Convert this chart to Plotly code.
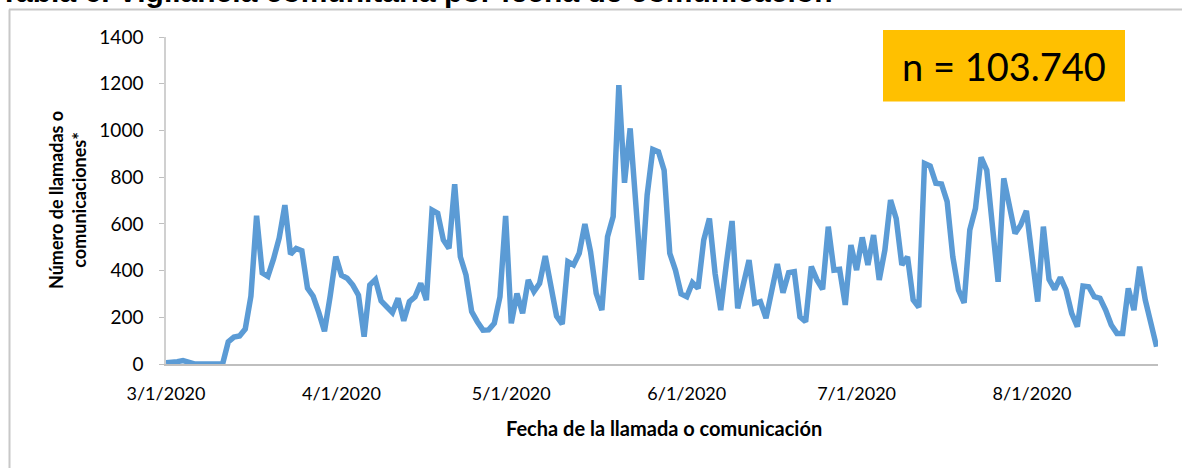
import pandas as pd
import plotly.graph_objects as go

start_date = "2020-03-01"
llamadas = [
    5, 5, 10, 15, 5, 0, 0, 0, 0, 0,
    0, 95, 115, 120, 150, 290, 635, 390, 375, 450,
    540, 680, 470, 495, 485, 325, 290, 220, 140, 290,
    460, 380, 367, 338, 295, 117, 338, 362, 270, 245,
    220, 281, 185, 267, 288, 345, 274, 659, 645, 531,
    495, 770, 459, 381, 224, 181, 145, 146, 174, 288,
    634, 174, 302, 217, 360, 310, 345, 462, 330, 205,
    171, 438, 424, 474, 599, 481, 302, 231, 545, 631,
    1194, 776, 1009, 700, 360, 723, 919, 909, 830, 474,
    402, 300, 288, 348, 324, 531, 623, 388, 231, 431,
    612, 238, 340, 445, 260, 267, 196, 317, 428, 305,
    391, 395, 202, 181, 417, 360, 320, 588, 402, 405,
    253, 509, 402, 542, 424, 552, 360, 488, 702, 623,
    424, 459, 274, 243, 859, 848, 774, 771, 695, 459,
    317, 262, 574, 666, 885, 830, 600, 352, 795, 680,
    559, 595, 656, 460, 267, 588, 362, 320, 371, 317,
    217, 160, 334, 331, 288, 281, 231, 167, 131, 131,
    324, 231, 417, 274, 174, 74,
]
tick_dates = ["2020-03-01", "2020-04-01", "2020-05-01", "2020-06-01", "2020-07-01", "2020-08-01"]
tick_labels = ["3/1/2020", "4/1/2020", "5/1/2020", "6/1/2020", "7/1/2020", "8/1/2020"]
y_ticks = [0, 200, 400, 600, 800, 1000, 1200, 1400]
total_label = "n = 103.740"
title_text = "Tabla 6. Vigilancia comunitaria por fecha de comunicación"
x_title = "Fecha de la llamada o comunicación"
y_title = "Número de llamadas o<br>comunicaciones*"

fechas = pd.date_range(start_date, periods=len(llamadas), freq="D")

FONT = "Lato"
fig = go.Figure()
fig.add_trace(go.Scatter(
    x=fechas, y=llamadas, mode="lines",
    line=dict(color="#5B9BD5", width=5.5),
    hoverinfo="x+y",
))

L, R, T, B = 166, 24, 37, 104
W, H = 1182, 468
pw, ph = W - L - R, H - T - B

def px_x(p):
    return (p - L) / pw

def px_y(p):
    return (H - B - p) / ph

fig.update_layout(
    width=W, height=H,
    margin=dict(l=L, r=R, t=T, b=B),
    paper_bgcolor="white", plot_bgcolor="white",
    showlegend=False,
    font=dict(family=FONT, size=18, color="#000000"),
    xaxis=dict(
        type="date",
        range=[fechas[0], fechas[-1] + pd.Timedelta(hours=6)],
        tickvals=pd.to_datetime(tick_dates), ticktext=tick_labels,
        showgrid=False, zeroline=False,
        showline=True, linecolor="#BFBFBF", linewidth=2,
        ticks="outside", ticklen=12, tickcolor="rgba(0,0,0,0)",
        tickfont=dict(family=FONT, size=18, color="#000000"),
    ),
    yaxis=dict(
        range=[0, 1400], tickvals=y_ticks,
        showgrid=False, zeroline=False,
        showline=True, linecolor="#D0D0D0", linewidth=1.5,
        ticks="outside", ticklen=5, tickcolor="#BFBFBF",
        ticklabelstandoff=12,
        tickfont=dict(family=FONT, size=19, color="#000000"),
    ),
    shapes=[
        dict(type="rect", xref="paper", yref="paper",
             x0=px_x(883), x1=px_x(1125), y0=px_y(101.5), y1=px_y(30),
             fillcolor="#FFC000", line=dict(width=0), layer="above"),
        dict(type="line", xref="paper", yref="paper",
             x0=px_x(9), x1=px_x(1182), y0=px_y(9.5), y1=px_y(9.5),
             line=dict(color="#C8C8C8", width=2)),
        dict(type="line", xref="paper", yref="paper",
             x0=px_x(9.5), x1=px_x(9.5), y0=px_y(9.5), y1=px_y(470),
             line=dict(color="#C8C8C8", width=2)),
    ],
    annotations=[
        dict(text=total_label, xref="paper", yref="paper",
             x=px_x(1004), y=px_y(66), xanchor="center", yanchor="middle",
             showarrow=False, font=dict(family=FONT, size=38, color="#000000")),
        dict(text="<b>" + x_title + "</b>", xref="paper", yref="paper",
             x=px_x(664), y=px_y(428), xanchor="center", yanchor="middle",
             showarrow=False, font=dict(family=FONT, size=20, color="#000000")),
        dict(text="<b>" + y_title + "</b>", xref="paper", yref="paper",
             x=px_x(67), y=px_y(200), xanchor="center", yanchor="middle",
             textangle=-90, showarrow=False,
             font=dict(family=FONT, size=18, color="#000000")),
        dict(text="<b>" + title_text + "</b>", xref="paper", yref="paper",
             x=px_x(-2), y=px_y(10), xanchor="left", yanchor="bottom",
             showarrow=False,
             font=dict(family="Liberation Sans", size=30, color="#000000")),
    ],
)

fig.write_html(
    "out.html",
    config={"displayModeBar": False},
    post_script="document.body.style.margin='0';document.body.style.overflow='hidden';",
)
